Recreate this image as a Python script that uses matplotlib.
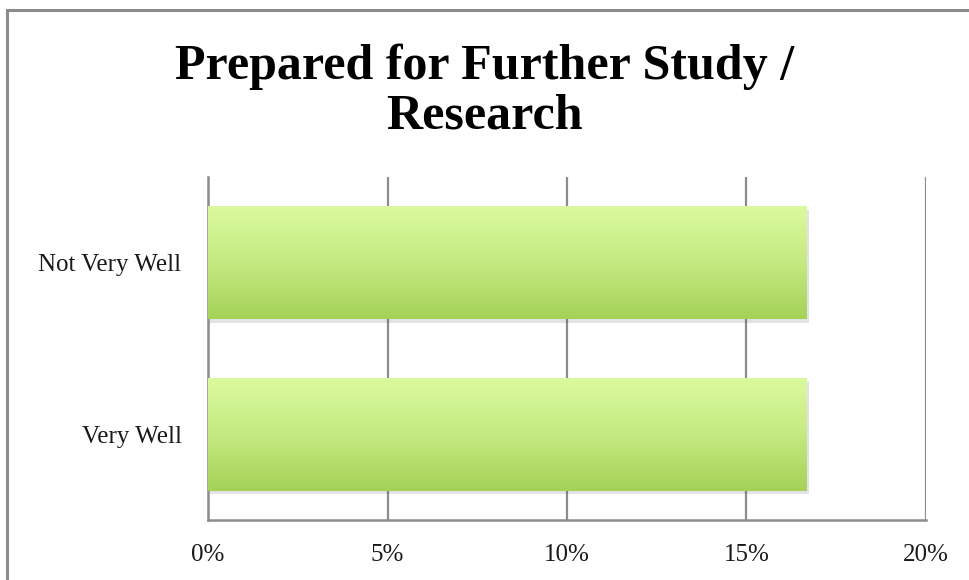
import numpy as np
import matplotlib
matplotlib.use("Agg")
import matplotlib.pyplot as plt
from matplotlib import patheffects as pe
from matplotlib.colors import LinearSegmentedColormap
from matplotlib.patches import Rectangle
from matplotlib.ticker import FuncFormatter

categories = ["Very Well", "Not Very Well"]
values = [0.1667, 0.1667]
xticks = [0, 0.05, 0.10, 0.15, 0.20]
title = "Prepared for Further Study /\nResearch"

W, H = 970, 580
fig = plt.figure(figsize=(W / 100, H / 100), dpi=100)
fig.patch.set_facecolor("white")

# outer border (chart frame, partially cropped at right/bottom)
fig.add_artist(Rectangle((7 / W, -0.05), 1.2, 1 - 10 / H + 0.05,
                         transform=fig.transFigure, fill=False,
                         edgecolor="#8c8c8c", linewidth=2.2))

ax = fig.add_axes([208 / W, 1 - 520 / H, (926 - 208) / W, (520 - 177) / H])

bars = ax.barh(range(len(categories)), values, height=0.66,
               color="#bfe27a", edgecolor="none", zorder=3,
               path_effects=[pe.SimplePatchShadow(offset=(1.5, -2.5), alpha=0.15, shadow_rgbFace="#444444"),
                             pe.Normal()])

cmap = LinearSegmentedColormap.from_list("g", ["#a4d257", "#c6ea82", "#dbfa9f"])
grad = np.linspace(0, 1, 256).reshape(-1, 1)
for b in bars:
    x0, y0 = b.get_x(), b.get_y()
    w, h = b.get_width(), b.get_height()
    im = ax.imshow(grad, cmap=cmap, aspect="auto", origin="lower",
                   extent=(x0, x0 + w, y0, y0 + h), zorder=4)
    im.set_clip_path(b)
ax.set_xlim(0, 0.20)
ax.set_ylim(-0.5, 1.5)

ax.set_xticks(xticks)
ax.xaxis.set_major_formatter(FuncFormatter(lambda v, p: f"{v * 100:.0f}%"))
ax.set_yticks(range(len(categories)))
ax.set_yticklabels(categories)

ax.grid(axis="x", color="#8c8c8c", linewidth=1.6, zorder=1)
ax.set_axisbelow(True)
for s in ["top", "right"]:
    ax.spines[s].set_visible(False)
for s in ["left", "bottom"]:
    ax.spines[s].set_color("#8c8c8c")
    ax.spines[s].set_linewidth(1.8)
ax.tick_params(axis="both", length=0, labelsize=18, colors="#1a1a1a")
ax.tick_params(axis="x", pad=17)
ax.tick_params(axis="y", pad=19)
for lab in ax.get_xticklabels() + ax.get_yticklabels():
    lab.set_family("Liberation Serif")

fig.text(0.5, 1 - 92 / H, title, ha="center", va="center",
         fontsize=36, fontweight="bold", family="Liberation Serif",
         linespacing=1.1, color="black")

fig.savefig("out.png", dpi=100, facecolor="white")
